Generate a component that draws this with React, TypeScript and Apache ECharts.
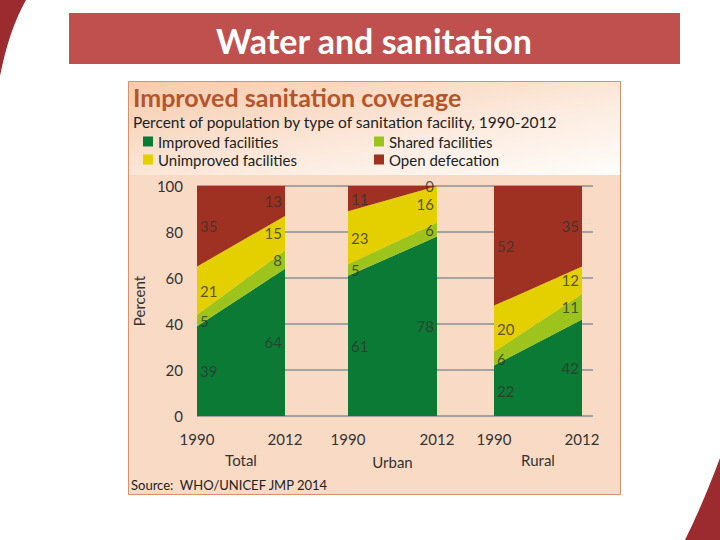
import React, { useEffect, useRef } from "react";
import * as echarts from "echarts";

const years = ["1990", "2012"];
const groups = ["Total", "Urban", "Rural"];
const layers = ["Improved facilities", "Shared facilities", "Unimproved facilities", "Open defecation"];
// values per group: [1990, 2012]
const improved = [[39, 64], [61, 78], [22, 42]];
const shared = [[5, 8], [5, 6], [6, 11]];
const unimproved = [[21, 15], [23, 16], [20, 12]];
const openDefecation = [[35, 13], [11, 0], [52, 35]];
const yTicks = { min: 0, max: 100, interval: 20 };

const layerValues = [improved, shared, unimproved, openDefecation];
const layerColors = ["#0a7a34", "#9dc41d", "#e4cf00", "#9e3121"];
const FONT = "Lato, 'Open Sans', sans-serif";

echarts.graphic.registerShape(
  "cornerTL",
  echarts.graphic.extendPath("M0 0 L26 0 Q9 30 0 76 Z", {})
);
echarts.graphic.registerShape(
  "cornerBR",
  echarts.graphic.extendPath("M685 540 Q702 506 720 458 L720 540 Z", {})
);

const gridLefts = [197, 348, 494];
const gridWidths = [88, 89, 88];
const plotTop = 186;
const plotBottom = 124;

export default function App() {
  const ref = useRef<HTMLDivElement>(null);
  useEffect(() => {
    if (!ref.current) return;
    const chart = echarts.init(ref.current, null, { renderer: "svg" });

    const axisText = {
      fontSize: 15,
      color: "#333",
      fontFamily: FONT,
      fontWeight: "normal",
      textBorderWidth: 0,
      textBorderColor: "transparent",
      textShadowBlur: 0,
    };

    const grids: any[] = [{ left: gridLefts[0], right: 127, top: plotTop, bottom: plotBottom }];
    const xAxes: any[] = [{ type: "value", gridIndex: 0, min: 0, max: 1, show: false }];
    const yAxes: any[] = [
      {
        type: "value",
        gridIndex: 0,
        min: yTicks.min,
        max: yTicks.max,
        interval: yTicks.interval,
        axisLine: { show: false },
        axisTick: { show: false },
        splitLine: { lineStyle: { color: "#a3a3a3", width: 2 } },
        axisLabel: { ...axisText, margin: 14 },
        name: "Percent",
        nameLocation: "middle",
        nameGap: 36,
        nameRotate: 90,
        nameTextStyle: { ...axisText },
      },
    ];
    const series: any[] = [];

    groups.forEach((g, gi) => {
      grids.push({ left: gridLefts[gi], width: gridWidths[gi], top: plotTop, bottom: plotBottom });
      xAxes.push({
        type: "category",
        gridIndex: gi + 1,
        data: years,
        boundaryGap: false,
        axisLine: { show: false },
        axisTick: { show: false },
        axisLabel: { ...axisText, margin: 15, interval: 0 },
        name: g,
        nameLocation: "middle",
        nameGap: g === "Urban" ? 38 : 36,
        nameTextStyle: { ...axisText },
        splitLine: { show: false },
      });
      yAxes.push({ type: "value", gridIndex: gi + 1, min: yTicks.min, max: yTicks.max, show: false });

      layerValues.forEach((arr, li) => {
        series.push({
          type: "line",
          name: layers[li],
          xAxisIndex: gi + 1,
          yAxisIndex: gi + 1,
          stack: "g" + gi,
          data: arr[gi],
          symbol: "none",
          lineStyle: { width: 0 },
          itemStyle: { color: layerColors[li] },
          areaStyle: { color: layerColors[li], opacity: 1 },
          z: 3,
          silent: true,
        });
      });

      const labelData: any[] = [];
      years.forEach((_, yi) => {
        let cum = 0;
        layerValues.forEach((arr) => {
          const v = arr[gi][yi];
          labelData.push({
            value: [yi, cum + v / 2],
            v,
            label: { position: yi === 0 ? "right" : "left" },
          });
          cum += v;
        });
      });
      series.push({
        type: "scatter",
        name: "labels-" + g,
        xAxisIndex: gi + 1,
        yAxisIndex: gi + 1,
        symbolSize: 0,
        data: labelData,
        silent: true,
        z: 5,
        label: {
          show: true,
          distance: 3,
          formatter: (p: any) => String(p.data.v),
          fontSize: 15,
          color: "#333",
          fontFamily: FONT,
          fontWeight: "normal",
        },
      });
    });

    const legendBase = {
      orient: "vertical",
      itemWidth: 10,
      itemHeight: 10,
      itemGap: 3,
      icon: "rect",
      selectedMode: false,
      textStyle: { fontSize: 15, color: "#222", fontFamily: FONT, fontWeight: "normal" },
    };

    chart.setOption({
      animation: false,
      backgroundColor: "#ffffff",
      textStyle: { fontFamily: FONT },
      grid: grids,
      xAxis: xAxes,
      yAxis: yAxes,
      series,
      legend: [
        { ...legendBase, data: [layers[0], layers[2]], left: 138, top: 129 },
        { ...legendBase, data: [layers[1], layers[3]], left: 369, top: 129 },
      ],
      graphic: [
        { type: "cornerTL", x: 0, y: 0, z: -20, style: { fill: "#9b2b2f" } },
        { type: "cornerBR", x: 0, y: 0, z: -20, style: { fill: "#9b2b2f" } },
        {
          type: "rect",
          z: -20,
          shape: { x: 69, y: 13, width: 611, height: 51 },
          style: { fill: "#c0504d" },
        },
        {
          type: "text",
          z: 10,
          x: 374,
          y: 40,
          style: {
            text: "Water and sanitation",
            fill: "#ffffff",
            fontSize: 34,
            fontWeight: "bold",
            fontFamily: FONT,
            textAlign: "center",
            textVerticalAlign: "middle",
          },
        },
        {
          type: "rect",
          z: -20,
          shape: { x: 128.5, y: 81.5, width: 492, height: 413 },
          style: { fill: "#f9dac4", stroke: "#d6916f", lineWidth: 1 },
        },
        {
          type: "rect",
          z: -19,
          shape: { x: 129, y: 82, width: 491, height: 93 },
          style: {
            fill: new echarts.graphic.LinearGradient(0, 0, 1, 1, [
              { offset: 0, color: "#f6cbac" },
              { offset: 0.6, color: "#fcebdf" },
              { offset: 1, color: "#fffdfb" },
            ]),
          },
        },
        {
          type: "text",
          z: 10,
          x: 133,
          y: 97,
          style: {
            text: "Improved sanitation coverage",
            fill: "#b5552b",
            fontSize: 25,
            fontWeight: "bold",
            fontFamily: FONT,
            textVerticalAlign: "middle",
          },
        },
        {
          type: "text",
          z: 10,
          x: 133,
          y: 122,
          style: {
            text: "Percent of population by type of sanitation facility, 1990-2012",
            fill: "#222",
            fontSize: 15.5,
            fontFamily: FONT,
            textVerticalAlign: "middle",
          },
        },
        {
          type: "text",
          z: 10,
          x: 131,
          y: 485,
          style: {
            text: "Source:  WHO/UNICEF JMP 2014",
            fill: "#222",
            fontSize: 13,
            fontFamily: FONT,
            textVerticalAlign: "middle",
          },
        },
      ],
    });
    return () => chart.dispose();
  }, []);
  return (
    <div
      ref={ref}
      style={{ position: "fixed", left: 0, top: 0, width: 720, height: 540 }}
    />
  );
}
